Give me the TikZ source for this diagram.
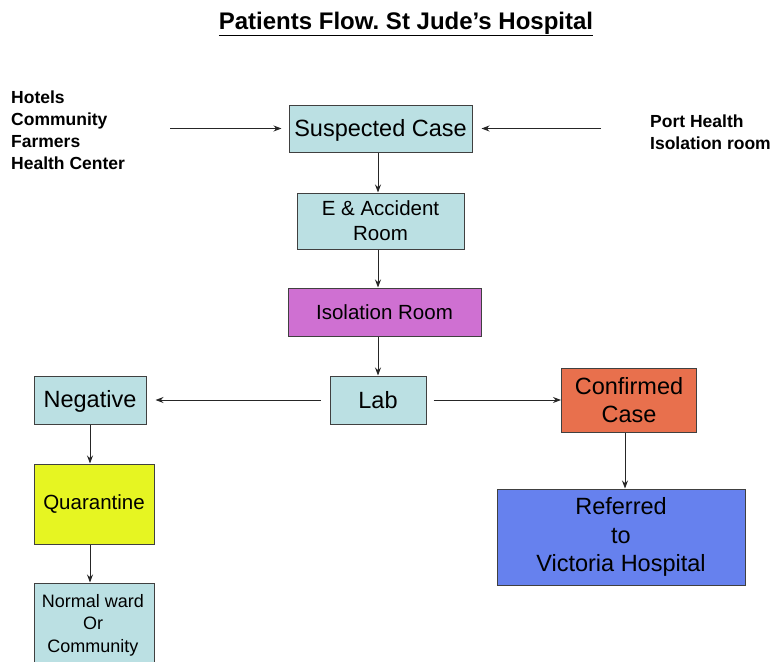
\documentclass[tikz,border=0pt]{standalone}
\usepackage{fontspec}
\setmainfont{Liberation Sans}
\frenchspacing
\usetikzlibrary{arrows.meta}
\definecolor{boxblue}{HTML}{BBE0E3}
\definecolor{isomag}{HTML}{CF70D2}
\definecolor{confred}{HTML}{E8704D}
\definecolor{quaryel}{HTML}{E6F522}
\definecolor{refblue}{HTML}{6681EE}

\begin{document}
\begin{tikzpicture}[x=1pt,y=-1pt,
  box/.style={draw=black!75, line width=1pt, align=center, inner sep=0pt},
  big/.style={font=\fontsize{23.5}{28.5}\selectfont},
  mid/.style={font=\fontsize{20.5}{25}\selectfont},
  src/.style={anchor=north west, align=left, inner sep=0pt, font=\fontsize{17.5}{22}\selectfont\bfseries},
  arr/.style={draw=black!85, line width=1pt, -{Stealth[length=8pt,width=6pt]}}]
\clip (0,0) rectangle (776,661);
\node[font=\fontsize{24}{28}\selectfont\bfseries] (title) at (406,24) {\underline{Patients Flow. St Jude’s Hospital}};
\node[src] (srcL) at (11,91) {Hotels\\ Community\\ Farmers\\ Health Center};
\node[src] (srcR) at (650,115) {Port Health\\ Isolation room};
\node[box, big, fill=boxblue, minimum width=183, minimum height=47, text depth=2pt] (susp) at (380.5,128.5) {Suspected Case};
\node[box, mid, fill=boxblue, minimum width=167, minimum height=56] (ea) at (380.5,221) {E \& Accident\\ Room};
\node[box, mid, fill=isomag, minimum width=193, minimum height=48] (iso) at (384.5,312) {Isolation Room};
\node[box, big, fill=boxblue, minimum width=96, minimum height=48] (lab) at (378,400) {Lab};
\node[box, big, fill=boxblue, minimum width=112, minimum height=48, text depth=2pt] (neg) at (90,400) {Negative};
\node[box, big, fill=confred, minimum width=135, minimum height=64] (conf) at (629,400) {Confirmed\\ Case};
\node[box, mid, fill=quaryel, minimum width=120, minimum height=80] (quar) at (94,504) {Quarantine};
\node[box, fill=boxblue, minimum width=120, minimum height=90] (norm) at (94,628) {};
\node[align=center, inner sep=0pt, font=\fontsize{18}{22.5}\selectfont] (normtxt) at (93,625) {Normal ward\\ Or\\ Community};
\node[box, big, fill=refblue, minimum width=248, minimum height=96] (ref) at (621,537) {Referred\\ to\\ Victoria Hospital};
% incoming sources
\coordinate (inL) at (170,128.5);
\coordinate (inR) at (601,128.5);
\draw[arr, shorten >=7pt] (inL) -- (susp.west);
\draw[arr, shorten >=9pt] (inR) -- (susp.east);
% main flow
\draw[arr] (susp.south -| lab) -- (ea.north -| lab);
\draw[arr] (ea.south -| lab) -- (iso.north -| lab);
\draw[arr] (iso.south -| lab) -- (lab.north);
\draw[arr, shorten <=9pt, shorten >=9pt] (lab.west) -- (neg.east);
\draw[arr, shorten <=7pt] (lab.east) -- (conf.west);
\draw[arr] (neg.south) -- (neg.south |- quar.north);
\draw[arr] (quar.south -| neg) -- (norm.north -| neg);
\draw[arr] (conf.south -| 625,0) -- (ref.north -| 625,0);
\end{tikzpicture}
\end{document}
